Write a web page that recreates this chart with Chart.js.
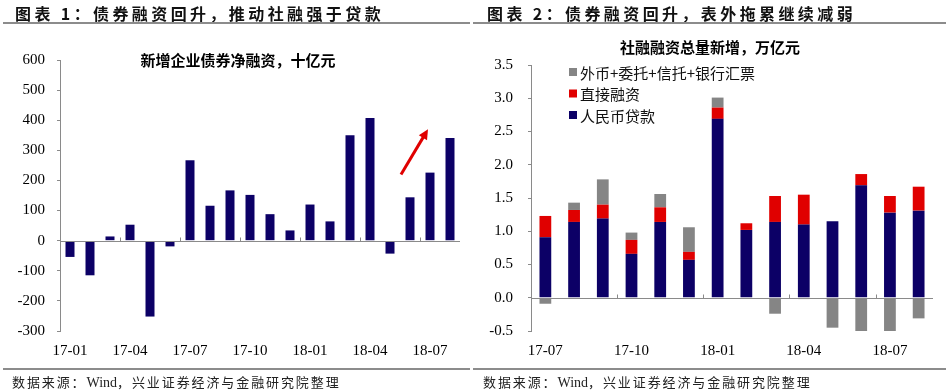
<!DOCTYPE html>
<html>
<head>
<meta charset="utf-8">
<script src="https://cdn.jsdelivr.net/npm/chart.js@4.4.1/dist/chart.umd.min.js"></script>
<style>
  body { margin: 0; background: #fff; width: 947px; height: 392px; position: relative; overflow: hidden; }
  canvas { position: absolute; top: 0; }
  .hd { position: absolute; top: 1px; font: 700 16px "Noto Sans CJK SC"; letter-spacing: 3.4px; color: #111; white-space: nowrap; }
  .rule { position: absolute; height: 2px; background: #8c8c8c; }
  .ttl { position: absolute; font: 700 15px "Noto Sans CJK SC"; color: #000; white-space: nowrap; transform: translateX(-50%); }
  .src { position: absolute; top: 372px; font: 13px "Noto Sans CJK SC"; letter-spacing: 1.9px; color: #222; white-space: nowrap; }
  .src span { font-family: "Liberation Serif"; font-size: 14px; letter-spacing: 0; }
</style>
</head>
<body>
<canvas id="bondChart" width="470" height="392" style="left:0"></canvas>
<canvas id="tsfChart" width="477" height="392" style="left:470px"></canvas>

<div class="hd" style="left:15px">图表 1：债券融资回升，推动社融强于贷款</div>
<div class="hd" style="left:487px">图表 2：债券融资回升，表外拖累继续减弱</div>
<div class="rule" style="left:3px; width:467px; top:22px"></div>
<div class="rule" style="left:473px; width:473px; top:22px"></div>
<div class="ttl" style="left:238px; top:49px">新增企业债券净融资，十亿元</div>
<div class="ttl" style="left:710px; top:36px">社融融资总量新增，万亿元</div>
<div class="rule" style="left:3px; width:467px; top:368px"></div>
<div class="rule" style="left:473px; width:473px; top:368px"></div>
<div class="src" style="left:12px">数据来源：<span>Wind</span>，兴业证券经济与金融研究院整理</div>
<div class="src" style="left:483px">数据来源：<span>Wind</span>，兴业证券经济与金融研究院整理</div>

<script>
// chart 1: new corporate bond net financing, 10 bn yuan
const bondMonths = ['17-01','17-02','17-03','17-04','17-05','17-06','17-07','17-08','17-09','17-10',
                    '17-11','17-12','18-01','18-02','18-03','18-04','18-05','18-06','18-07','18-08'];
const bondNet = [-54, -115, 14, 53, -252, -19, 267, 116, 167, 152,
                 88, 34, 120, 64, 350, 407, -43, 144, 226, 341];
// red arrow, in data space (category index, value)
const arrowFrom = { x: 16.55, y: 220 };
const arrowTo = { x: 17.9, y: 370 };

// chart 2: total social financing increments, trillion yuan
const tsfMonths = ['17-07','17-08','17-09','17-10','17-11','17-12','18-01',
                   '18-02','18-03','18-04','18-05','18-06','18-07','18-08'];
const rmbLoans = [0.91, 1.14, 1.19, 0.66, 1.14, 0.57, 2.69, 1.02, 1.14, 1.10, 1.15, 1.69, 1.28, 1.31];
const directFinance = [0.32, 0.18, 0.21, 0.21, 0.22, 0.12, 0.17, 0.10, 0.39, 0.45, 0, 0.17, 0.25, 0.36];
const offBalance = [-0.09, 0.11, 0.38, 0.11, 0.20, 0.37, 0.15, 0, -0.24, -0.02, -0.45, -0.53, -0.53, -0.31];

const navy = '#0c0066';
const red = '#e00000';
const grey = '#858585';
const axisColor = '#8a8a8a';
const tickFont = { family: 'Liberation Serif', size: 15 };

// zero line with short upward ticks every 3 months
const zeroAxis = {
  id: 'zeroAxis',
  afterDatasetsDraw(chart) {
    const { ctx, chartArea, scales: { x, y } } = chart;
    const y0 = Math.round(y.getPixelForValue(0)) + 0.5;
    ctx.save();
    ctx.strokeStyle = axisColor;
    ctx.lineWidth = 1;
    ctx.beginPath();
    ctx.moveTo(chartArea.left, y0);
    ctx.lineTo(chartArea.right, y0);
    for (let i = 3; i < chart.data.labels.length; i += 3) {
      const px = Math.round(x.getPixelForValue(i - 0.5)) + 0.5;
      ctx.moveTo(px, y0);
      ctx.lineTo(px, y0 - 4);
    }
    ctx.stroke();
    ctx.restore();
  }
};

const redArrow = {
  id: 'redArrow',
  afterDraw(chart) {
    const { ctx, scales: { x, y } } = chart;
    const x1 = x.getPixelForValue(arrowFrom.x), y1 = y.getPixelForValue(arrowFrom.y);
    const x2 = x.getPixelForValue(arrowTo.x), y2 = y.getPixelForValue(arrowTo.y);
    const ang = Math.atan2(y2 - y1, x2 - x1);
    const head = 11;
    ctx.save();
    ctx.strokeStyle = red;
    ctx.fillStyle = red;
    ctx.lineWidth = 3;
    ctx.beginPath();
    ctx.moveTo(x1, y1);
    ctx.lineTo(x2 - Math.cos(ang) * head * 0.7, y2 - Math.sin(ang) * head * 0.7);
    ctx.stroke();
    ctx.beginPath();
    ctx.moveTo(x2, y2);
    ctx.lineTo(x2 - head * Math.cos(ang - 0.45), y2 - head * Math.sin(ang - 0.45));
    ctx.lineTo(x2 - head * Math.cos(ang + 0.45), y2 - head * Math.sin(ang + 0.45));
    ctx.closePath();
    ctx.fill();
    ctx.restore();
  }
};

// legend drawn inside the plot, top-left, reversed order
const boxLegend = {
  id: 'boxLegend',
  afterDraw(chart) {
    const { ctx, chartArea } = chart;
    const items = chart.data.datasets.slice().reverse();
    ctx.save();
    ctx.font = '15px "Noto Sans CJK SC"';
    ctx.textBaseline = 'middle';
    items.forEach((ds, i) => {
      const cy = chartArea.top + 7 + i * 21.5;
      ctx.fillStyle = ds.backgroundColor;
      ctx.fillRect(chartArea.left + 38, cy - 4, 8, 8);
      ctx.fillStyle = '#111';
      ctx.fillText(ds.label, chartArea.left + 49, cy + 1);
    });
    ctx.restore();
  }
};

function xAxis(labels) {
  return {
    stacked: true,
    grid: { display: false, drawTicks: false },
    border: { display: false },
    afterFit: s => { s.height = 61; },
    ticks: {
      font: tickFont,
      color: '#000',
      padding: 11,
      autoSkip: false,
      maxRotation: 0,
      callback: (v, i) => (i % 3 === 0 ? labels[i] : '')
    }
  };
}

new Chart(document.getElementById('bondChart').getContext('2d'), {
  type: 'bar',
  data: {
    labels: bondMonths,
    datasets: [{
      label: '新增企业债券净融资',
      data: bondNet,
      backgroundColor: navy,
      barPercentage: 0.45,
      categoryPercentage: 1
    }]
  },
  options: {
    responsive: false,
    animation: false,
    layout: { padding: { top: 60, right: 10, bottom: 0, left: 0 } },
    plugins: { legend: { display: false }, tooltip: { enabled: false } },
    scales: {
      x: xAxis(bondMonths),
      y: {
        min: -300,
        max: 600,
        afterFit: s => { s.width = 60; },
        border: { color: axisColor, width: 1 },
        grid: { drawOnChartArea: false, tickLength: 3, color: axisColor },
        ticks: { stepSize: 100, font: tickFont, color: '#000', padding: 12 }
      }
    }
  },
  plugins: [zeroAxis, redArrow]
});

new Chart(document.getElementById('tsfChart').getContext('2d'), {
  type: 'bar',
  data: {
    labels: tsfMonths,
    datasets: [
      { label: '人民币贷款', data: rmbLoans, backgroundColor: navy, barPercentage: 0.41, categoryPercentage: 1 },
      { label: '直接融资', data: directFinance, backgroundColor: red, barPercentage: 0.41, categoryPercentage: 1 },
      { label: '外币+委托+信托+银行汇票', data: offBalance, backgroundColor: grey, barPercentage: 0.41, categoryPercentage: 1 }
    ]
  },
  options: {
    responsive: false,
    animation: false,
    layout: { padding: { top: 65, right: 14, bottom: 0, left: 0 } },
    plugins: { legend: { display: false }, tooltip: { enabled: false } },
    scales: {
      x: xAxis(tsfMonths),
      y: {
        stacked: true,
        min: -0.5,
        max: 3.5,
        afterFit: s => { s.width = 61; },
        border: { color: axisColor, width: 1 },
        grid: { drawOnChartArea: false, tickLength: 3, color: axisColor },
        ticks: { stepSize: 0.5, font: tickFont, color: '#000', padding: 15, callback: v => v.toFixed(1) }
      }
    }
  },
  plugins: [zeroAxis, boxLegend]
});
</script>
</body>
</html>
